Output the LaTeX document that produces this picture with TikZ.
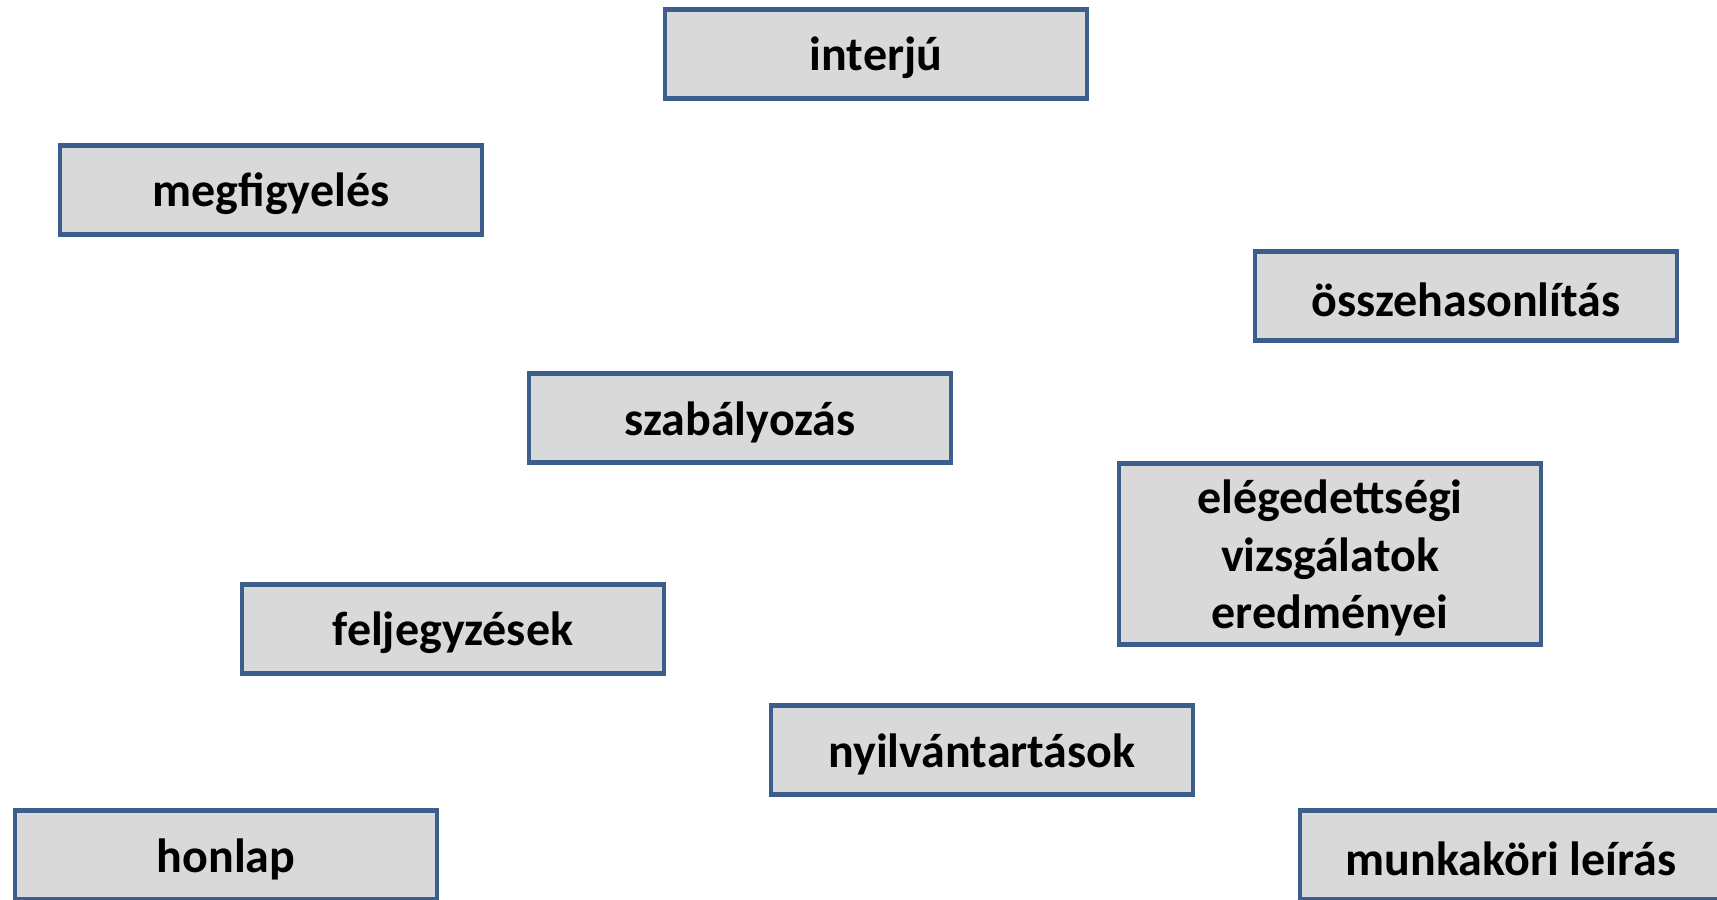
\documentclass[tikz,border=0pt]{standalone}
\usepackage{fontspec}
\setmainfont{Carlito}
\definecolor{boxfill}{HTML}{D9D9D9}
\definecolor{boxline}{HTML}{3B5E8C}
\begin{document}
\begin{tikzpicture}[x=1pt,y=-1pt,
  card/.style={draw=boxline, fill=boxfill, line width=4.5pt, rectangle,
    minimum width=422pt, minimum height=89pt, inner sep=0pt},
  cardtext/.style={align=center, inner sep=0pt,
    font=\fontsize{48}{57.5}\selectfont\bfseries, text=black}]
\useasboundingbox (0,0) rectangle (1717,900);
\clip (0,0) rectangle (1717,900);
\node[card] (interju) at (876,54) {};
\node[cardtext] (interjuT) at ([yshift=-4pt]interju.center) {interjú};
\node[card] (megfig) at (271,190) {};
\node[cardtext] (megfigT) at ([yshift=-4pt]megfig.center) {megfigyelés};
\node[card] (ossze) at (1466,296) {};
\node[cardtext] (osszeT) at ([yshift=-4pt]ossze.center) {összehasonlítás};
\node[card] (szab) at (740,418) {};
\node[cardtext] (szabT) at ([yshift=-4pt]szab.center) {szabályozás};
\node[card, minimum height=181pt] (eleg) at (1330,554) {};
\node[cardtext] (elegT) at ([yshift=-4pt]eleg.center) {elégedettségi\\vizsgálatok\\eredményei};
\node[card] (felj) at (453,629) {};
\node[cardtext] (feljT) at ([yshift=-4pt]felj.center) {feljegyzések};
\node[card] (nyilv) at (982,750) {};
\node[cardtext] (nyilvT) at ([yshift=-4pt]nyilv.center) {nyilvántartások};
\node[card] (honlap) at (226,855) {};
\node[cardtext] (honlapT) at ([yshift=-4pt]honlap.center) {honlap};
\node[card] (munka) at (1511,855) {};
\node[cardtext] (munkaT) at ([yshift=-4pt]munka.center) {munkaköri leírás};
\end{tikzpicture}
\end{document}
